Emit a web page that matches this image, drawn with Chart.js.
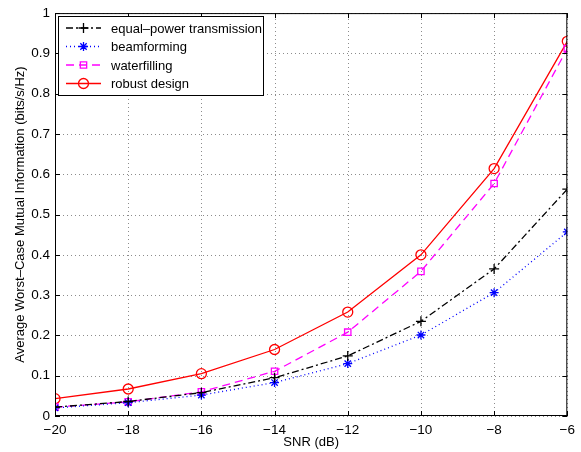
<!DOCTYPE html>
<html>
<head>
<meta charset="utf-8">
<script src="https://cdn.jsdelivr.net/npm/chart.js"></script>
<style>
  html, body { margin: 0; padding: 0; background: #fff; }
  #wrap { width: 581px; height: 452px; }
</style>
</head>
<body>
<div id="wrap"><canvas id="myChart" width="581" height="452"></canvas></div>
<script>
// data
const snr = [-20, -18, -16, -14, -12, -10, -8, -6];
const equalPower = [0.022, 0.036, 0.058, 0.095, 0.149, 0.235, 0.365, 0.563];
const beamforming = [0.020, 0.033, 0.052, 0.083, 0.130, 0.201, 0.306, 0.457];
const waterfilling = [0.022, 0.035, 0.060, 0.111, 0.208, 0.359, 0.577, 0.912];
const robust = [0.043, 0.067, 0.105, 0.165, 0.258, 0.400, 0.614, 0.930];
const xTickLabels = ['\u221220', '\u221218', '\u221216', '\u221214', '\u221212', '\u221210', '\u22128', '\u22126'];
const yTickLabels = ['0', '0.1', '0.2', '0.3', '0.4', '0.5', '0.6', '0.7', '0.8', '0.9', '1'];
const seriesNames = ['equal\u2013power transmission', 'beamforming', 'waterfilling', 'robust design'];

const FONT = '"Liberation Sans", Arial, sans-serif';

function pts(ys) {
  return snr.map((x, i) => ({ x: x, y: ys[i] }));
}

const series = [
  { label: seriesNames[0], data: pts(equalPower), borderColor: '#000', dash: [7, 3, 2, 3], pointStyle: 'cross', radius: 5 },
  { label: seriesNames[1], data: pts(beamforming), borderColor: '#0000ff', dash: [1, 3], pointStyle: 'star', radius: 4.5 },
  { label: seriesNames[2], data: pts(waterfilling), borderColor: '#ff00ff', dash: [8, 5], pointStyle: 'rect', radius: 4.5 },
  { label: seriesNames[3], data: pts(robust), borderColor: '#ff0000', dash: [], pointStyle: 'circle', radius: 5 }
];

// dotted grid under the lines
const dottedGrid = {
  id: 'dottedGrid',
  beforeDatasetsDraw(chart) {
    const c = chart.ctx;
    const a = chart.chartArea;
    const xs = chart.scales.x, ys = chart.scales.y;
    c.save();
    c.strokeStyle = '#8c8c8c';
    c.lineWidth = 1;
    c.setLineDash([1, 3]);
    c.beginPath();
    snr.forEach(v => {
      const px = Math.round(xs.getPixelForValue(v)) + 0.5;
      c.moveTo(px, a.bottom); c.lineTo(px, a.top);
    });
    yTickLabels.forEach((t, i) => {
      const py = Math.round(ys.getPixelForValue(i / 10)) + 0.5;
      c.moveTo(a.left, py); c.lineTo(a.right, py);
    });
    c.stroke();
    c.restore();
  }
};

// box, inward ticks and MATLAB style legend
const matlabBits = {
  id: 'matlabBits',
  afterDraw(chart) {
    const c = chart.ctx;
    const a = chart.chartArea;
    const xs = chart.scales.x, ys = chart.scales.y;
    c.save();
    c.strokeStyle = '#000';
    c.lineWidth = 1;
    c.setLineDash([]);
    c.strokeRect(a.left + 0.5, a.top + 0.5, a.right - a.left - 1, a.bottom - a.top - 1);
    c.beginPath();
    snr.forEach(v => {
      const px = Math.round(xs.getPixelForValue(v)) + 0.5;
      c.moveTo(px, a.bottom); c.lineTo(px, a.bottom - 5);
      c.moveTo(px, a.top); c.lineTo(px, a.top + 5);
    });
    yTickLabels.forEach((t, i) => {
      const py = Math.round(ys.getPixelForValue(i / 10)) + 0.5;
      c.moveTo(a.left, py); c.lineTo(a.left + 5, py);
      c.moveTo(a.right, py); c.lineTo(a.right - 5, py);
    });
    c.stroke();

    // legend
    const lx = 58, ly = 16, lw = 205, lh = 79;
    c.fillStyle = '#fff';
    c.fillRect(lx, ly, lw, lh);
    c.strokeRect(lx + 0.5, ly + 0.5, lw, lh);
    c.font = '13px ' + FONT;
    c.textBaseline = 'middle';
    series.forEach((s, i) => {
      const y = ly + 12 + i * 18.5;
      c.strokeStyle = s.borderColor;
      c.lineWidth = 1.3;
      c.setLineDash(s.dash);
      c.beginPath();
      c.moveTo(66, y); c.lineTo(101, y);
      c.stroke();
      c.setLineDash([]);
      c.fillStyle = 'rgba(0,0,0,0)';
      Chart.helpers.drawPoint(c, { pointStyle: s.pointStyle, radius: s.radius, borderWidth: 1.3 }, 83.5, y);
      c.fillStyle = '#000';
      c.fillText(s.label, 111, y + 1);
    });
    c.restore();
  }
};

const ctx = document.getElementById('myChart');

new Chart(ctx, {
  type: 'line',
  data: {
    datasets: series.map(s => ({
      label: s.label,
      data: s.data,
      borderColor: s.borderColor,
      backgroundColor: 'rgba(0,0,0,0)',
      borderWidth: 1.3,
      borderDash: s.dash,
      pointStyle: s.pointStyle,
      pointRadius: s.radius,
      pointBorderColor: s.borderColor,
      pointBackgroundColor: 'rgba(0,0,0,0)',
      pointBorderWidth: 1.3,
      tension: 0,
      fill: false
    }))
  },
  options: {
    responsive: false,
    animation: false,
    layout: { padding: { left: 0, right: 5, top: 8, bottom: 0 } },
    plugins: {
      legend: { display: false },
      tooltip: { enabled: false }
    },
    scales: {
      x: {
        type: 'linear',
        min: -20,
        max: -6,
        afterFit(scale) { scale.height = 36; },
        afterBuildTicks(scale) { scale.ticks = snr.map(v => ({ value: v })); },
        grid: { display: false, drawTicks: false, tickLength: 0 },
        border: { display: false },
        ticks: {
          color: '#000',
          padding: 6,
          maxRotation: 0,
          font: { family: FONT, size: 13.5 },
          callback: (v) => xTickLabels[snr.indexOf(v)]
        },
        title: {
          display: true,
          text: 'SNR (dB)',
          color: '#000',
          padding: { top: 0, bottom: 2 },
          font: { family: FONT, size: 13 }
        }
      },
      y: {
        min: 0,
        max: 1,
        afterFit(scale) { scale.width = 55; },
        afterBuildTicks(scale) { scale.ticks = yTickLabels.map((t, i) => ({ value: i / 10 })); },
        grid: { display: false, drawTicks: false, tickLength: 0 },
        border: { display: false },
        ticks: {
          color: '#000',
          padding: 5,
          font: { family: FONT, size: 13.5 },
          callback: (v) => yTickLabels[Math.round(v * 10)]
        },
        title: {
          display: true,
          text: 'Average Worst\u2013Case Mutual Information (bits/s/Hz)',
          color: '#000',
          padding: { top: 13, bottom: 0 },
          font: { family: FONT, size: 13 }
        }
      }
    }
  },
  plugins: [dottedGrid, matlabBits]
});
</script>
</body>
</html>
